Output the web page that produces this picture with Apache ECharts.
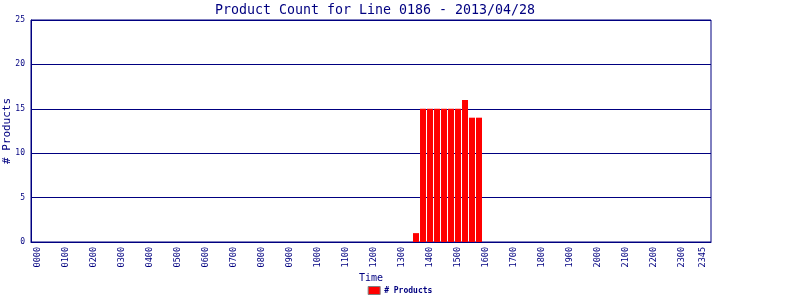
<!DOCTYPE html>
<html><head><meta charset="utf-8">
<script src="https://cdn.jsdelivr.net/npm/echarts@6/dist/echarts.min.js"></script>
<style>html,body{margin:0;padding:0;background:#fff}#c{width:800px;height:300px}</style>
</head><body><div id="c"></div>
<script>
// 15-minute time slots
const categories = [];
for (let h = 0; h < 24; h++) for (let m = 0; m < 60; m += 15)
  categories.push(String(h).padStart(2,'0') + String(m).padStart(2,'0'));
// product counts per slot (all others zero)
const countsBySlot = {"1330":1,"1345":15,"1400":15,"1415":15,"1430":15,"1445":15,"1500":15,"1515":16,"1530":14,"1545":14};
const values = categories.map(c => countsBySlot[c] || 0);
const tickLabels = ["0000","0100","0200","0300","0400","0500","0600","0700","0800","0900","1000","1100","1200","1300","1400","1500","1600","1700","1800","1900","2000","2100","2200","2300","2345"];
const yTicks = [0,5,10,15,20,25];

const navy = '#000080';
const font = 'DejaVu Sans Mono';
const chart = echarts.init(document.getElementById('c'), null, {renderer:'canvas'});
chart.setOption({
  animation:false,
  backgroundColor:'#fff',
  title:{text:'Product Count for Line 0186 - 2013/04/28', left:370, textAlign:'center', top:-1,
    textStyle:{color:navy, fontFamily:font, fontSize:13.3, fontWeight:'normal'}},
  legend:{bottom:0, left:'center', icon:'rect', itemWidth:12, itemHeight:8, itemGap:4,
    itemStyle:{borderColor:'#808080', borderWidth:1},
    textStyle:{color:navy, fontFamily:font, fontSize:8, fontWeight:'bold', padding:[0,0,0,-1]},
    data:['# Products']},
  grid:{left:31, right:89, top:20, bottom:58, show:true, borderColor:navy, borderWidth:1,
    containLabel:false, outerBoundsMode:'none'},
  xAxis:{type:'value', min:-1, max:96.14,
    name:'Time', nameLocation:'middle', nameGap:31, nameMoveOverlap:false,
    nameTextStyle:{color:navy, fontFamily:font, fontSize:10},
    axisLine:{show:true, onZero:false, lineStyle:{color:navy, width:1}},
    axisTick:{show:false}, splitLine:{show:false},
    axisLabel:{rotate:90, margin:5, color:navy, fontFamily:font, fontSize:8.5,
      customValues: tickLabels.map(t => categories.indexOf(t)),
      formatter: v => categories[Math.round(v)] || ''}},
  yAxis:{type:'value', min:0, max:25, interval:5,
    name:'# Products', nameLocation:'middle', nameGap:18, nameMoveOverlap:false,
    nameTextStyle:{color:navy, fontFamily:font, fontSize:11},
    axisLine:{show:true, onZero:false, lineStyle:{color:navy, width:1}},
    axisTick:{show:false},
    splitLine:{show:true, lineStyle:{color:navy, width:1}},
    axisLabel:{color:navy, fontFamily:font, fontSize:8, margin:6,
      customValues: yTicks}},
  series:[{name:'# Products', type:'bar', barWidth:6,
    itemStyle:{color:'#ff0000'},
    data: values.map((v,i) => [i, v])}]
});
</script></body></html>
